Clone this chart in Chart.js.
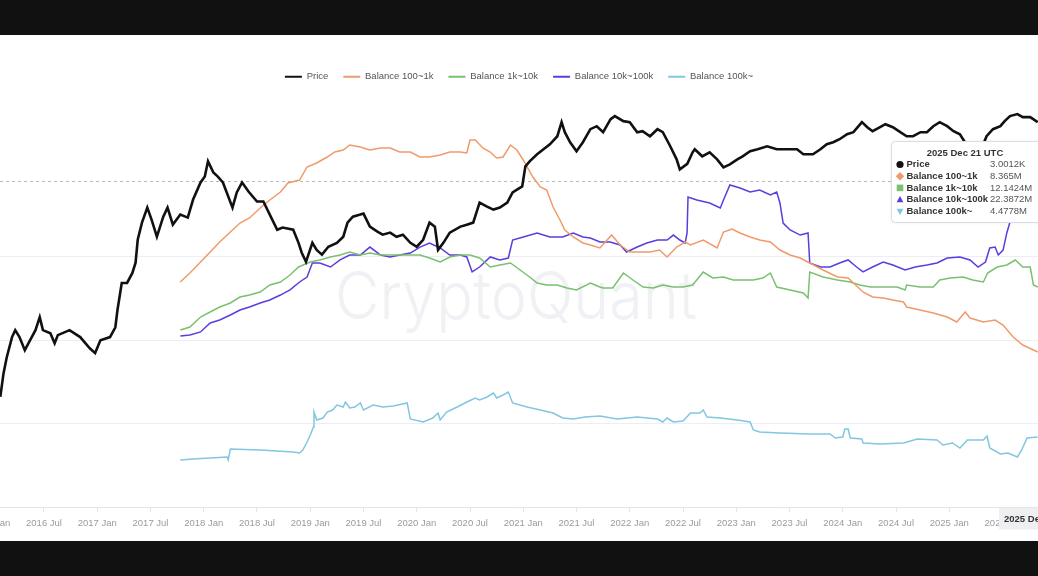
<!DOCTYPE html>
<html>
<head>
<meta charset="utf-8">
<script src="https://cdn.jsdelivr.net/npm/chart.js@4/dist/chart.umd.min.js"></script>
<style>
  html, body { margin: 0; background: #111; }
  #panel { position: absolute; left: 0; top: 35px; width: 1038px; height: 506px; background: #fff; }
</style>
</head>
<body>
<div id="panel"><canvas id="chart"></canvas></div>
<script>
// ETH PRICE VS BALANCE COHORTS

const tickYears = [2016, 2016.5, 2017, 2017.5, 2018, 2018.5, 2019, 2019.5, 2020, 2020.5,
  2021, 2021.5, 2022, 2022.5, 2023, 2023.5, 2024, 2024.5, 2025, 2025.5]
const tickLabels = ['2016 Jan', '2016 Jul', '2017 Jan', '2017 Jul', '2018 Jan', '2018 Jul',
  '2019 Jan', '2019 Jul', '2020 Jan', '2020 Jul', '2021 Jan', '2021 Jul', '2022 Jan', '2022 Jul',
  '2023 Jan', '2023 Jul', '2024 Jan', '2024 Jul', '2025 Jan', '2025 Jul']

// price, USD
const priceT = [2016.09, 2016.12, 2016.15, 2016.20, 2016.23, 2016.27, 2016.32, 2016.37, 2016.42, 2016.46,
  2016.49, 2016.56, 2016.60, 2016.63, 2016.74, 2016.84, 2016.93, 2016.98, 2017.03, 2017.12,
  2017.17, 2017.19, 2017.23, 2017.28, 2017.33, 2017.36, 2017.38, 2017.42, 2017.47, 2017.51,
  2017.56, 2017.62, 2017.66, 2017.71, 2017.78, 2017.85, 2017.90, 2017.97, 2018.01, 2018.04,
  2018.09, 2018.13, 2018.18, 2018.27, 2018.31, 2018.36, 2018.42, 2018.50, 2018.56, 2018.62,
  2018.69, 2018.74, 2018.84, 2018.89, 2018.92, 2018.96, 2019.02, 2019.06, 2019.11, 2019.17,
  2019.25, 2019.31, 2019.35, 2019.40, 2019.47, 2019.50, 2019.56, 2019.63, 2019.68, 2019.75,
  2019.81, 2019.87, 2019.94, 2020.00, 2020.06, 2020.12, 2020.17, 2020.20, 2020.25, 2020.31,
  2020.41, 2020.47, 2020.53, 2020.59, 2020.66, 2020.72, 2020.78, 2020.85, 2020.90, 2020.99,
  2021.02, 2021.06, 2021.13, 2021.19, 2021.25, 2021.32, 2021.36, 2021.39, 2021.44, 2021.50,
  2021.56, 2021.63, 2021.69, 2021.75, 2021.82, 2021.86, 2021.94, 2022.00, 2022.07, 2022.12,
  2022.19, 2022.26, 2022.31, 2022.38, 2022.44, 2022.47, 2022.54, 2022.59, 2022.61, 2022.68,
  2022.75, 2022.82, 2022.88, 2022.94, 2023.01, 2023.06, 2023.13, 2023.20, 2023.29, 2023.38,
  2023.48, 2023.57, 2023.63, 2023.72, 2023.79, 2023.85, 2023.91, 2023.97, 2024.04, 2024.10,
  2024.18, 2024.23, 2024.28, 2024.35, 2024.40, 2024.47, 2024.54, 2024.60, 2024.66, 2024.73,
  2024.79, 2024.85, 2024.91, 2024.98, 2025.04, 2025.10, 2025.17, 2025.24, 2025.29, 2025.35,
  2025.41, 2025.48, 2025.52, 2025.57, 2025.64, 2025.69, 2025.76, 2025.83]
const priceV = [2.1, 4.0, 6.2, 10.9, 13.2, 10.9, 7.6, 10, 13.2, 18.9,
  13.2, 12.1, 9.2, 11.5, 13.2, 10.9, 8.0, 7.0, 10, 10.9,
  14.3, 23, 48.6, 48.6, 64, 85, 160, 257, 389, 279,
  174, 303, 389, 243, 321, 295, 486, 779, 920, 1395,
  1028, 920, 779, 389, 590, 779, 607, 460, 460, 321,
  211, 224, 211, 147, 112, 87, 147, 121, 106, 132,
  147, 174, 257, 303, 321, 330, 230, 200, 184, 195,
  174, 184, 147, 132, 160, 257, 230, 121, 147, 195,
  230, 243, 257, 447, 400, 368, 389, 447, 590, 697,
  1214, 1395, 1694, 1945, 2234, 2790, 4115, 3119, 2362, 1841,
  2362, 3390, 3683, 3119, 4476, 4864, 4233, 4115, 3119, 3206,
  2790, 3390, 3119, 2116, 1475, 1117, 1300, 1791, 1945, 1603,
  1791, 1475, 1181, 1284, 1475, 1603, 1841, 1945, 2116, 1945,
  1945, 1945, 1694, 1694, 1945, 2234, 2362, 2569, 2951, 3119,
  4115, 3583, 3206, 3583, 3892, 3583, 3119, 2790, 2790, 3119,
  3119, 3683, 4115, 3683, 3206, 2951, 2116, 1700, 1800, 2790,
  3390, 3683, 4233, 4864, 5140, 4728, 4728, 4115]

// balance 100~1k, M
const b100T = [2017.78, 2017.87, 2017.97, 2018.06, 2018.15, 2018.25, 2018.34, 2018.43, 2018.53, 2018.62,
  2018.72, 2018.79, 2018.90, 2018.97, 2019.06, 2019.16, 2019.23, 2019.31, 2019.37, 2019.47,
  2019.56, 2019.66, 2019.75, 2019.84, 2019.94, 2020.03, 2020.12, 2020.22, 2020.31, 2020.41,
  2020.47, 2020.50, 2020.55, 2020.62, 2020.69, 2020.75, 2020.81, 2020.88, 2020.94, 2021.00,
  2021.09, 2021.16, 2021.22, 2021.28, 2021.345, 2021.39, 2021.47, 2021.56, 2021.63, 2021.72,
  2021.83, 2021.91, 2022.00, 2022.10, 2022.19, 2022.28, 2022.35, 2022.44, 2022.52, 2022.57,
  2022.69, 2022.82, 2022.88, 2022.96, 2023.035, 2023.13, 2023.22, 2023.32, 2023.41, 2023.505,
  2023.60, 2023.69, 2023.815, 2023.95, 2024.05, 2024.10, 2024.19, 2024.28, 2024.38, 2024.47,
  2024.57, 2024.60, 2024.725, 2024.85, 2024.98, 2025.07, 2025.15, 2025.195, 2025.32, 2025.43,
  2025.505, 2025.60, 2025.69, 2025.83]
const b100V = [11.3, 11.66, 12.1, 12.5, 12.9, 13.3, 13.66, 13.86, 14.26, 14.58,
  14.9, 15.26, 15.38, 15.9, 16.06, 16.3, 16.5, 16.58, 16.78, 16.7,
  16.58, 16.66, 16.66, 16.5, 16.5, 16.3, 16.3, 16.38, 16.5, 16.5,
  16.46, 16.98, 16.98, 16.66, 16.5, 16.26, 16.3, 16.78, 16.58, 16.18,
  15.5, 15.1, 14.98, 14.3, 13.78, 13.38, 13.1, 12.86, 12.78, 12.66,
  13.18, 12.78, 12.5, 12.5, 12.5, 12.58, 12.3, 12.7, 12.9, 12.78,
  12.98, 12.66, 13.3, 13.42, 13.26, 13.1, 12.98, 12.9, 12.58, 12.38,
  12.26, 12.06, 11.78, 11.5, 11.46, 11.26, 10.9, 10.7, 10.66, 10.58,
  10.5, 10.3, 10.18, 10.06, 9.9, 9.7, 10.1, 9.86, 9.7, 9.78,
  9.58, 9.1, 8.78, 8.5]

// balance 1k~10k, M
const b1kT = [2017.78, 2017.87, 2017.97, 2018.06, 2018.15, 2018.25, 2018.34, 2018.43, 2018.53, 2018.62,
  2018.72, 2018.81, 2018.89, 2019.00, 2019.09, 2019.19, 2019.28, 2019.37, 2019.47, 2019.56,
  2019.66, 2019.75, 2019.84, 2019.94, 2020.03, 2020.12, 2020.22, 2020.31, 2020.41, 2020.50,
  2020.59, 2020.69, 2020.78, 2020.88, 2020.97, 2021.06, 2021.13, 2021.22, 2021.32, 2021.41,
  2021.50, 2021.63, 2021.72, 2021.75, 2021.84, 2021.94, 2022.03, 2022.125, 2022.22, 2022.31,
  2022.41, 2022.50, 2022.59, 2022.69, 2022.78, 2022.88, 2022.97, 2023.06, 2023.16, 2023.25,
  2023.32, 2023.38, 2023.505, 2023.63, 2023.674, 2023.69, 2023.815, 2023.95, 2024.07, 2024.16,
  2024.26, 2024.38, 2024.51, 2024.585, 2024.60, 2024.725, 2024.85, 2024.91, 2025.01, 2025.13,
  2025.22, 2025.32, 2025.36, 2025.45, 2025.54, 2025.62, 2025.69, 2025.76, 2025.79, 2025.83]
const b1kV = [10.48, 10.6, 11.0, 11.2, 11.4, 11.56, 11.8, 11.88, 12.0, 12.28,
  12.4, 12.68, 13.0, 13.2, 13.28, 13.4, 13.48, 13.6, 13.48, 13.56,
  13.48, 13.48, 13.48, 13.48, 13.48, 13.36, 13.2, 13.4, 13.48, 13.48,
  13.36, 13.0, 13.08, 13.16, 12.88, 12.6, 12.36, 12.28, 12.28, 12.16,
  12.08, 12.36, 12.2, 12.16, 12.16, 12.76, 12.48, 12.2, 12.16, 12.28,
  12.2, 12.2, 12.28, 12.8, 12.56, 12.6, 12.48, 12.48, 12.48, 12.56,
  12.76, 12.2, 12.08, 11.96, 11.76, 12.8, 12.6, 12.48, 12.4, 12.28,
  12.2, 12.2, 12.2, 12.08, 12.28, 12.2, 12.2, 12.48, 12.56, 12.6,
  12.48, 12.4, 12.76, 13.0, 13.08, 13.28, 13.0, 13.0, 12.28, 12.2]

// balance 10k~100k, M
const b10kT = [2017.78, 2017.87, 2017.97, 2018.06, 2018.15, 2018.25, 2018.34, 2018.43, 2018.53, 2018.62,
  2018.72, 2018.81, 2018.90, 2018.97, 2019.02, 2019.09, 2019.19, 2019.28, 2019.37, 2019.47,
  2019.56, 2019.66, 2019.75, 2019.84, 2019.94, 2020.03, 2020.12, 2020.22, 2020.31, 2020.41,
  2020.47, 2020.52, 2020.59, 2020.69, 2020.78, 2020.86, 2020.90, 2021.00, 2021.13, 2021.25,
  2021.37, 2021.47, 2021.56, 2021.63, 2021.72, 2021.815, 2021.91, 2021.97, 2022.07, 2022.16,
  2022.26, 2022.35, 2022.41, 2022.47, 2022.52, 2022.538, 2022.547, 2022.63, 2022.75, 2022.85,
  2022.88, 2022.94, 2023.035, 2023.13, 2023.22, 2023.32, 2023.38, 2023.41, 2023.44, 2023.505,
  2023.60, 2023.674, 2023.69, 2023.79, 2023.88, 2023.97, 2024.05, 2024.13, 2024.19, 2024.28,
  2024.38, 2024.47, 2024.585, 2024.68, 2024.79, 2024.885, 2024.98, 2025.10, 2025.195, 2025.27,
  2025.34, 2025.38, 2025.43, 2025.46, 2025.505, 2025.54, 2025.57, 2025.66, 2025.83]
const b10kV = [14.4, 14.47, 14.67, 15.27, 15.47, 15.8, 16.13, 16.33, 16.6, 16.8,
  17.13, 17.47, 18.0, 18.33, 19.27, 19.27, 19.0, 19.47, 19.8, 19.8,
  20.33, 19.8, 19.67, 19.8, 19.93, 20.33, 20.6, 20.27, 19.8, 19.8,
  19.67, 18.67, 19.0, 19.67, 19.47, 19.6, 20.8, 21.0, 21.27, 21.0,
  21.0, 21.27, 21.0, 20.93, 20.67, 20.67, 20.47, 20.0, 20.33, 20.6,
  20.8, 20.8, 21.13, 20.8, 20.6, 21.27, 23.67, 23.47, 23.27, 22.93,
  23.47, 24.47, 24.27, 24.0, 24.13, 23.8, 24.0, 23.27, 21.93, 21.47,
  21.13, 21.27, 19.27, 19.0, 19.0, 19.27, 19.47, 19.0, 18.67, 19.0,
  19.33, 19.13, 18.8, 19.0, 19.13, 19.27, 19.6, 19.67, 19.47, 19.0,
  19.33, 20.27, 20.33, 19.8, 20.13, 21.27, 22.0, 23.1, 23.5]

// balance 100k~, M
const b100kT = [2017.78, 2017.90, 2018.06, 2018.22, 2018.23, 2018.25, 2018.53, 2018.84, 2018.90, 2018.93,
  2018.97, 2019.00, 2019.03, 2019.035, 2019.06, 2019.12, 2019.16, 2019.21, 2019.25, 2019.31,
  2019.33, 2019.37, 2019.42, 2019.47, 2019.50, 2019.59, 2019.68, 2019.78, 2019.91, 2019.94,
  2020.06, 2020.15, 2020.20, 2020.22, 2020.28, 2020.38, 2020.47, 2020.55, 2020.59, 2020.66,
  2020.72, 2020.75, 2020.81, 2020.86, 2020.90, 2021.035, 2021.16, 2021.28, 2021.37, 2021.47,
  2021.58, 2021.72, 2021.88, 2022.07, 2022.26, 2022.31, 2022.35, 2022.41, 2022.50, 2022.57,
  2022.66, 2022.69, 2022.725, 2022.85, 2023.01, 2023.13, 2023.16, 2023.22, 2023.41, 2023.69,
  2023.88, 2023.93, 2024.00, 2024.02, 2024.05, 2024.07, 2024.18, 2024.19, 2024.35, 2024.57,
  2024.70, 2024.885, 2024.94, 2025.03, 2025.10, 2025.17, 2025.32, 2025.355, 2025.38, 2025.48,
  2025.55, 2025.64, 2025.68, 2025.73, 2025.83]
const b100kV = [3.35, 3.4, 3.45, 3.5, 3.35, 3.9, 3.85, 3.75, 3.7, 3.85,
  4.25, 4.6, 5.0, 5.75, 5.35, 5.45, 5.75, 5.85, 6.1, 6.0,
  6.25, 5.95, 6.0, 6.2, 5.85, 6.1, 6.0, 6.05, 6.2, 5.4,
  5.25, 5.45, 5.7, 5.35, 5.75, 6.0, 6.25, 6.45, 6.35, 6.5,
  6.7, 6.45, 6.6, 6.75, 6.2, 6.0, 5.85, 5.7, 5.45, 5.4,
  5.5, 5.55, 5.4, 5.5, 5.4, 5.25, 5.45, 5.25, 5.3, 5.7,
  5.7, 5.85, 5.5, 5.45, 5.35, 5.25, 4.85, 4.75, 4.7, 4.65,
  4.65, 4.45, 4.5, 4.9, 4.9, 4.45, 4.4, 4.2, 4.15, 4.2,
  4.4, 4.35, 4.1, 4.2, 3.95, 4.35, 4.35, 4.55, 3.95, 3.65,
  3.7, 3.5, 3.85, 4.45, 4.5]

// hover readout shown at the right edge
const tipTitle = '2025 Dec 21 UTC'
const tipLabels = ['Price', 'Balance 100~1k', 'Balance 1k~10k', 'Balance 10k~100k', 'Balance 100k~']
const tipValues = ['3.0012K', '8.365M', '12.1424M', '22.3872M', '4.4778M']
const tipMarkers = ['circle', 'diamond', 'square', 'triangle', 'triangleDown']
const hoverDate = '2025 Dec 21'
const hoverPrice = 800

const colors = ['#111111', '#f09a6b', '#79c16f', '#5a3ddc', '#82c6e0']
const FONT = 'Liberation Sans'

const zip = (t, v) => t.map((x, i) => ({ x: x, y: v[i] }))

function drawMarker(ctx, type, x, y, color) {
  ctx.fillStyle = color
  ctx.beginPath()
  if (type === 'circle') {
    ctx.arc(x, y, 3.6, 0, Math.PI * 2)
  } else if (type === 'diamond') {
    ctx.moveTo(x, y - 4.2); ctx.lineTo(x + 4.2, y); ctx.lineTo(x, y + 4.2); ctx.lineTo(x - 4.2, y)
  } else if (type === 'square') {
    ctx.rect(x - 3.3, y - 3.3, 6.6, 6.6)
  } else if (type === 'triangle') {
    ctx.moveTo(x, y - 3.6); ctx.lineTo(x + 3.4, y + 2.6); ctx.lineTo(x - 3.4, y + 2.6)
  } else {
    ctx.moveTo(x - 3.4, y - 2.6); ctx.lineTo(x + 3.4, y - 2.6); ctx.lineTo(x, y + 3.6)
  }
  ctx.closePath()
  ctx.fill()
}

const overlay = {
  id: 'overlay',
  beforeDatasetsDraw(chart) {
    const ctx = chart.ctx
    const area = chart.chartArea
    // watermark
    ctx.save()
    ctx.font = '300 66px Inter'
    const w = ctx.measureText('CryptoQuant').width
    ctx.translate(335, 284)
    ctx.scale(362 / w, 1)
    ctx.fillStyle = '#f0f1f4'
    ctx.textBaseline = 'alphabetic'
    ctx.fillText('CryptoQuant', 0, 0)
    ctx.restore()
    // crosshair
    const y = Math.round(chart.scales.yPrice.getPixelForValue(hoverPrice)) + 0.5
    ctx.save()
    ctx.strokeStyle = '#b9b9b9'
    ctx.lineWidth = 1
    ctx.setLineDash([3, 3])
    ctx.beginPath()
    ctx.moveTo(area.left, y)
    ctx.lineTo(area.right, y)
    ctx.stroke()
    ctx.restore()
  },
  afterDraw(chart) {
    const ctx = chart.ctx
    ctx.save()
    // tooltip box
    ctx.fillStyle = '#ffffff'
    ctx.strokeStyle = '#dcdde2'
    ctx.lineWidth = 1
    ctx.shadowColor = 'rgba(0,0,0,0.08)'
    ctx.shadowBlur = 4
    ctx.beginPath()
    ctx.roundRect(891.5, 106.5, 170, 81, 4)
    ctx.fill()
    ctx.shadowBlur = 0
    ctx.stroke()
    ctx.textBaseline = 'middle'
    ctx.fillStyle = '#333'
    ctx.font = 'bold 9.5px ' + FONT
    ctx.textAlign = 'center'
    ctx.fillText(tipTitle, 965, 118)
    ctx.textAlign = 'left'
    tipLabels.forEach((label, i) => {
      const y = 129.5 + i * 11.7
      drawMarker(ctx, tipMarkers[i], 900, y, colors[i])
      ctx.fillStyle = '#333'
      ctx.font = 'bold 9.5px ' + FONT
      ctx.fillText(label, 906.5, y)
      ctx.fillStyle = '#555'
      ctx.font = '9.5px ' + FONT
      ctx.fillText(tipValues[i], 990, y)
    })
    // x crosshair label
    ctx.fillStyle = '#eeeff1'
    ctx.fillRect(999, 473, 60, 21.5)
    ctx.fillStyle = '#333'
    ctx.font = 'bold 9.5px ' + FONT
    ctx.fillText(hoverDate, 1004, 484)
    ctx.restore()
  }
}

const ctx = document.getElementById('chart').getContext('2d')
const chartGraph = new Chart(ctx, {
  type: 'line',
  data: {
    datasets: [
      { label: 'Price', data: zip(priceT, priceV), yAxisID: 'yPrice', borderColor: colors[0], backgroundColor: colors[0], borderWidth: 2.6 },
      { label: 'Balance 100~1k', data: zip(b100T, b100V), yAxisID: 'yB100', borderColor: colors[1], backgroundColor: colors[1], borderWidth: 1.5 },
      { label: 'Balance 1k~10k', data: zip(b1kT, b1kV), yAxisID: 'yB1k', borderColor: colors[2], backgroundColor: colors[2], borderWidth: 1.5 },
      { label: 'Balance 10k~100k', data: zip(b10kT, b10kV), yAxisID: 'yB10k', borderColor: colors[3], backgroundColor: colors[3], borderWidth: 1.5 },
      { label: 'Balance 100k~', data: zip(b100kT, b100kV), yAxisID: 'yB100k', borderColor: colors[4], backgroundColor: colors[4], borderWidth: 1.5 }
    ]
  },
  options: {
    responsive: true,
    maintainAspectRatio: false,
    animation: false,
    events: [],
    elements: { point: { radius: 0 }, line: { tension: 0 } },
    layout: { padding: { top: 22, left: 0, right: 0, bottom: 0 } },
    plugins: {
      tooltip: { enabled: false },
      legend: {
        position: 'top',
        maxHeight: 33,
        labels: {
          boxWidth: 17,
          boxHeight: 2,
          padding: 15,
          color: '#555',
          font: { family: FONT, size: 9.5 },
          generateLabels(chart) {
            return Chart.defaults.plugins.legend.labels.generateLabels(chart)
              .map(l => Object.assign(l, { fillStyle: l.strokeStyle, lineWidth: 0 }))
          }
        }
      }
    },
    scales: {
      x: {
        type: 'linear',
        min: 2016.087,
        max: 2025.833,
        afterBuildTicks: s => { s.ticks = tickYears.map(v => ({ value: v })) },
        afterFit: s => { s.height = 34; s.paddingLeft = 0; s.paddingRight = 0 },
        grid: { drawOnChartArea: false, tickLength: 5, color: '#e3e5ea' },
        border: { color: '#e3e5ea' },
        ticks: {
          autoSkip: false,
          maxRotation: 0,
          padding: 6,
          color: '#9b9b9b',
          font: { family: FONT, size: 9.5 },
          callback: (v, i) => tickLabels[i]
        }
      },
      yPrice: {
        type: 'logarithmic',
        position: 'left',
        min: 0.1,
        max: 10000,
        afterBuildTicks: s => { s.ticks = [0.1, 1, 10, 100, 1000, 10000].map(v => ({ value: v })) },
        afterFit: s => { s.width = 0; s.paddingTop = 0; s.paddingBottom = 0 },
        ticks: { display: false },
        border: { display: false },
        grid: {
          drawTicks: false,
          color: c => ([1, 10, 100].includes(c.tick.value) ? '#eceef3' : 'rgba(0,0,0,0)')
        }
      },
      yB100: { type: 'linear', display: false, min: 2.3, max: 18.98 },
      yB1k: { type: 'linear', display: false, min: 3.4, max: 20.08 },
      yB10k: { type: 'linear', display: false, min: 3, max: 30.8 },
      yB100k: { type: 'linear', display: false, min: 1, max: 21.85 }
    }
  },
  plugins: [overlay]
})
</script>
</body>
</html>
